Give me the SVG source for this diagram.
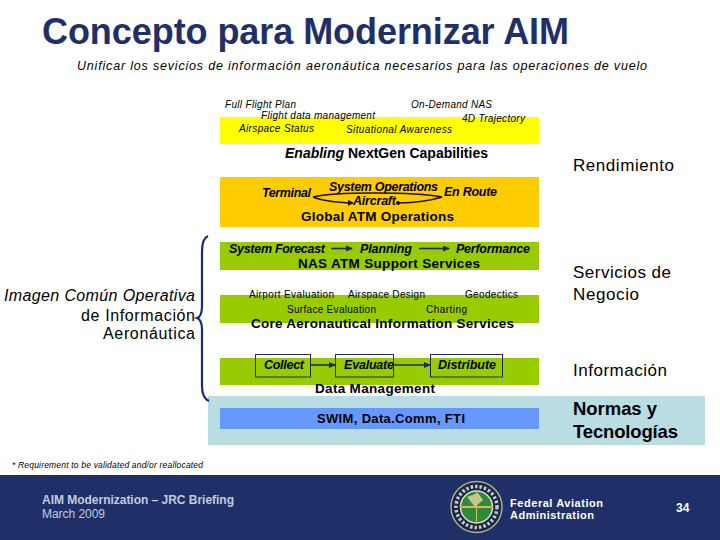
<svg xmlns="http://www.w3.org/2000/svg" width="720" height="540" viewBox="0 0 720 540">
<style>
text{font-family:"Liberation Sans",Arial,sans-serif;fill:#000}
.i{font-style:italic}
.s{font-size:10px}
.t{font-size:13.5px;font-weight:bold}
.h{font-size:12.5px;font-style:italic;font-weight:bold}
.r{font-size:17px}
.n{font-size:18.5px;font-weight:bold}
.l{font-size:16px}
.c{stroke:#1f2a6b;stroke-width:1.6;fill:none}
.k{stroke:#1a1200;stroke-width:1.6;fill:none}
.w{fill:#fff;font-weight:bold;font-size:11px}
</style>
<defs>
<marker id="a" markerWidth="7" markerHeight="6" refX="6" refY="3" orient="auto" markerUnits="userSpaceOnUse"><path d="M0 0L7 3L0 6Z" fill="#1f2a6b"/></marker>
<marker id="b" markerWidth="6" markerHeight="6" refX="5" refY="3" orient="auto" markerUnits="userSpaceOnUse"><path d="M0 0L6 3L0 6Z" fill="#1a1200"/></marker>
<marker id="d" markerWidth="5" markerHeight="5" refX="2.500" refY="2.500" orient="auto" markerUnits="userSpaceOnUse"><circle cx="2.500" cy="2.500" r="2" fill="#1a1200"/></marker>
</defs>
<rect width="720" height="540" fill="#fff"/>
<text id="title" x="42" y="44" font-size="36" font-weight="bold" style="fill:#1f3068" textLength="527">Concepto para Modernizar AIM</text>
<text id="subtitle" x="77" y="70" class="i" font-size="12.5" textLength="570">Unificar los sevicios de información aeronáutica necesarios para las operaciones de vuelo</text>

<g id="capabilities">
<rect x="220" y="117" width="319" height="27" fill="#ffff00"/>
<text x="225" y="108" class="i s" textLength="71">Full Flight Plan</text>
<text x="411" y="108" class="i s" textLength="81">On-Demand NAS</text>
<text x="261" y="119" class="i s" textLength="114">Flight data management</text>
<text x="462" y="122" class="i s" textLength="63">4D Trajectory</text>
<text x="239" y="132" class="i s" textLength="75">Airspace Status</text>
<text x="346" y="133" class="i s" textLength="106">Situational Awareness</text>
<text x="285" y="158" font-size="14" font-weight="bold" textLength="203"><tspan font-style="italic">Enabling</tspan> NextGen Capabilities</text>
</g>

<g id="global-atm">
<rect x="220" y="177" width="319" height="50" fill="#ffcc00"/>
<text x="262" y="197" class="h" textLength="49">Terminal</text>
<text x="329" y="191" class="h" textLength="109">System Operations</text>
<text x="444" y="196" class="h" textLength="53">En Route</text>
<text x="353" y="205" class="h" textLength="43">Aircraft</text>
<text x="301" y="221" class="t" textLength="153">Global ATM Operations</text>
</g>

<g id="nas-atm">
<rect x="220" y="242" width="319" height="28" fill="#99cc00"/>
<text x="229" y="253" class="h" textLength="96">System Forecast</text>
<text x="360" y="253" class="h" textLength="52">Planning</text>
<text x="456" y="253" class="h" textLength="74">Performance</text>
<text x="298" y="268" class="t" textLength="182">NAS ATM Support Services</text>
</g>

<g id="core-aero">
<rect x="220" y="295" width="319" height="28" fill="#99cc00"/>
<text x="249" y="298" class="s" textLength="85">Airport Evaluation</text>
<text x="348" y="298" class="s" textLength="77">Airspace Design</text>
<text x="465" y="298" class="s" textLength="53">Geodectics</text>
<text x="287" y="313" class="s" textLength="89">Surface Evaluation</text>
<text x="426" y="313" class="s" textLength="41">Charting</text>
<text x="251" y="328" class="t" textLength="263">Core Aeronautical Information Services</text>
</g>

<g id="data-management">
<rect x="220" y="358" width="319" height="27" fill="#99cc00"/>
<rect x="255.500" y="354.500" width="55" height="22.500" fill="none" stroke="#1f2a6b"/>
<rect x="335.500" y="354.500" width="58" height="22.500" fill="none" stroke="#1f2a6b"/>
<rect x="430.500" y="354.500" width="72" height="22.500" fill="none" stroke="#1f2a6b"/>
<text x="264" y="369" class="h" textLength="40">Collect</text>
<text x="344" y="369" class="h" textLength="50">Evaluate</text>
<text x="438" y="369" class="h" textLength="58">Distribute</text>
<text x="315" y="393" class="t" textLength="120">Data Management</text>
</g>

<g id="standards">
<rect x="208" y="396" width="497" height="49" fill="#b9dde3"/>
<rect x="220" y="408" width="319" height="21" fill="#6699ff"/>
<text x="317" y="423" class="t" font-size="13" style="font-size:13px" textLength="148">SWIM, Data.Comm, FTI</text>
<text x="573" y="415" class="n" textLength="84">Normas y</text>
<text x="573" y="438" class="n" textLength="105">Tecnologías</text>
</g>

<g id="connectors">
<path class="c" d="M331 248.500H352" marker-end="url(#a)"/>
<path class="c" d="M419 248.500H449" marker-end="url(#a)"/>
<path class="c" d="M310 365H335" marker-end="url(#a)"/>
<path class="c" d="M393 365H430" marker-end="url(#a)"/>
<path class="k" d="M313 197Q330 193 375 193Q420 193 442 197"/>
<path class="k" d="M313 197Q325 202 353 203" marker-end="url(#b)"/>
<path class="k" d="M442 197Q425 202.500 398 203" marker-end="url(#d)"/>
<path d="M208 236C203 238 202 244 202 252V306C202 313 200 317 197 318C200 319 202 323 202 330V386C202 394 204 399 209 401" fill="none" stroke="#1f2a6b" stroke-width="2.200"/>
</g>

<g id="labels">
<text x="195" y="301" text-anchor="end" class="l i" textLength="191">Imagen Común Operativa</text>
<text x="195" y="321" text-anchor="end" class="l" textLength="114">de Información</text>
<text x="195" y="339" text-anchor="end" class="l" textLength="92">Aeronáutica</text>
<text x="573" y="171" class="r" textLength="101">Rendimiento</text>
<text x="573" y="278" class="r" textLength="98">Servicios de</text>
<text x="573" y="300" class="r" textLength="66">Negocio</text>
<text x="573" y="376" class="r" textLength="94">Información</text>
<text x="12" y="468" class="i" font-size="8.500" textLength="191">* Requirement to be validated and/or reallocated</text>
</g>

<g id="footer">
<rect y="475" width="720" height="65" fill="#1f3068"/>
<text x="42" y="504" font-size="12" font-weight="bold" style="fill:#c3cadf" textLength="192">AIM Modernization – JRC Briefing</text>
<text x="42" y="518" font-size="12" style="fill:#c3cadf" textLength="63">March 2009</text>
<g id="seal">
<circle cx="476.500" cy="507" r="25.500" fill="#17264f" stroke="#b5ab7c" stroke-width="1.500"/>
<circle cx="476.500" cy="507" r="20.500" fill="none" stroke="#c9cbc0" stroke-width="3.500" stroke-dasharray="2.500 2"/>
<circle cx="476.500" cy="507" r="16" fill="#2a8a3e" stroke="#e4e0bb" stroke-width="1.500"/>
<path d="M460 507H493" stroke="#d9b54a" stroke-width="2"/>
<path d="M476.500 491V523" stroke="#d9b54a" stroke-width="1.200"/>
<path d="M467 497L478 493L483 500L475 507Z" fill="#c9c68a"/>
</g>
<text x="510" y="507" class="w" textLength="93">Federal Aviation</text>
<text x="510" y="519" class="w" textLength="84">Administration</text>
<text x="676" y="512" class="w" style="font-size:12px">34</text>
</g>
</svg>
